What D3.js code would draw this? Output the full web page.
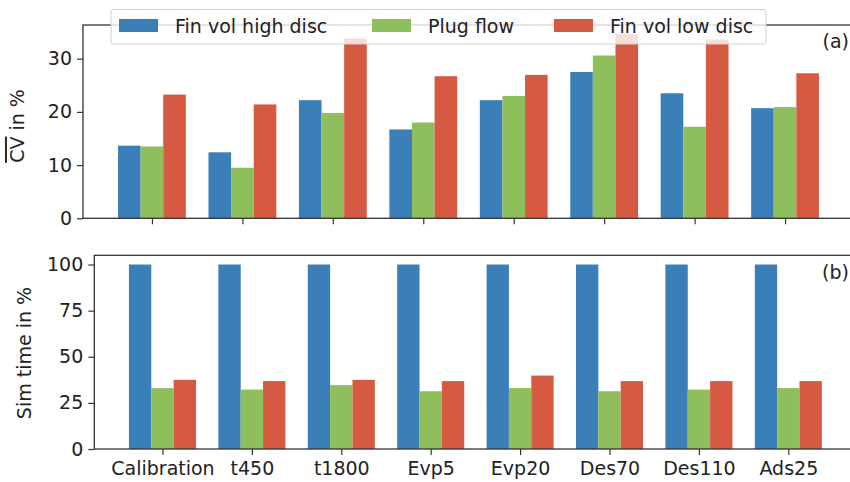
<!DOCTYPE html>
<html><head><meta charset="utf-8">
<script src="https://cdn.jsdelivr.net/npm/d3@7"></script>
<style>
html,body{margin:0;padding:0;background:#fff;}
text{font-family:"DejaVu Sans",sans-serif;fill:#222;}
</style></head>
<body><svg id="c" width="850" height="482"></svg>
<script>
const categories = ["Calibration","t450","t1800","Evp5","Evp20","Des70","Des110","Ads25"];
const seriesNames = ["Fin vol high disc","Plug flow","Fin vol low disc"];
const cvHigh = [13.65,12.4,22.2,16.7,22.2,27.5,23.5,20.7];
const cvPlug = [13.5,9.5,19.8,18.0,23.0,30.6,17.2,20.9];
const cvLow  = [23.25,21.4,33.8,26.7,26.95,34.6,33.6,27.25];
const simHigh = [100,100,100,100,100,100,100,100];
const simPlug = [33.0,32.2,34.6,31.3,33.0,31.3,32.2,33.0];
const simLow  = [37.5,36.8,37.5,36.8,39.8,36.8,36.8,36.8];
const cvTicks = [0,10,20,30];
const simTicks = [0,25,50,75,100];
const colors = ["#3a7fb8","#8fbe5c","#d65a42"];

const svg = d3.select("#c");
const FS = 19;
const axisColor = "#333";

function panel(cfg){
  const g = svg.append("g");
  const n = categories.length;
  const x = d3.scaleLinear().domain([-0.7625, n-1+0.7625]).range([cfg.left, cfg.right]);
  const maxV = d3.max(cfg.series.flat());
  const y = d3.scaleLinear().domain([0, maxV*1.05]).range([cfg.bottom, cfg.top]);
  const w = 0.25;
  cfg.series.forEach((vals, si) => {
    g.selectAll(null).data(vals).enter().append("rect")
      .attr("x", (d,i) => x(i + (si-1)*w - w/2))
      .attr("width", (d,i) => x(i + w/2) - x(i - w/2))
      .attr("y", d => y(d))
      .attr("height", d => y(0) - y(d))
      .attr("fill", colors[si]);
  });
  const ya = g.append("g").attr("transform", `translate(${cfg.left},0)`)
    .call(d3.axisLeft(y).tickValues(cfg.ticks).tickSize(6).tickPadding(5));
  ya.select(".domain").remove();
  const xa = g.append("g").attr("transform", `translate(0,${cfg.bottom})`)
    .call(d3.axisBottom(x).tickValues(d3.range(n)).tickSize(6).tickPadding(7)
      .tickFormat(cfg.showLabels ? (i => categories[i]) : () => ""));
  xa.select(".domain").remove();
  [ya, xa].forEach(a => {
    a.selectAll("line").attr("stroke", axisColor).attr("stroke-width", 1.2);
    a.selectAll("text").style("font-size", FS+"px").style("font-family","DejaVu Sans").attr("fill","#222");
  });
  g.append("rect").attr("x", cfg.left).attr("y", cfg.top)
    .attr("width", cfg.right-cfg.left).attr("height", cfg.bottom-cfg.top)
    .attr("fill","none").attr("stroke", axisColor).attr("stroke-width", 1.3);
  g.append("text").attr("x", 849).attr("y", cfg.tagY).attr("text-anchor","end")
    .style("font-size", FS+"px").text(cfg.tag);
  return {x, y};
}

panel({left:83, right:854, top:25, bottom:218.3, series:[cvHigh,cvPlug,cvLow], ticks:cvTicks, showLabels:false, tag:"(a)", tagY:48});
panel({left:94.3, right:856.5, top:255.3, bottom:449, series:[simHigh,simPlug,simLow], ticks:simTicks, showLabels:true, tag:"(b)", tagY:279});

const yl1 = svg.append("text").attr("transform","translate(24,126) rotate(-90)")
  .attr("text-anchor","middle").style("font-size", FS+"px");
yl1.append("tspan").style("text-decoration","overline").text("CV");
yl1.append("tspan").text(" in %");
svg.append("text").attr("transform","translate(31,353) rotate(-90)")
  .attr("text-anchor","middle").style("font-size", FS+"px").text("Sim time in %");

const leg = svg.append("g");
leg.append("rect").attr("x",111).attr("y",9.5).attr("width",655).attr("height",34.5)
  .attr("rx",2).attr("fill","white").attr("fill-opacity",0.8).attr("stroke","#d0d0d0").attr("stroke-width",1);
const legX = [119, 372, 554];
seriesNames.forEach((s,i) => {
  leg.append("rect").attr("x",legX[i]).attr("y",19).attr("width",39).attr("height",13).attr("fill",colors[i]);
  leg.append("text").attr("x",legX[i]+56).attr("y",32.5).style("font-size",FS+"px").text(s);
});
</script></body></html>
